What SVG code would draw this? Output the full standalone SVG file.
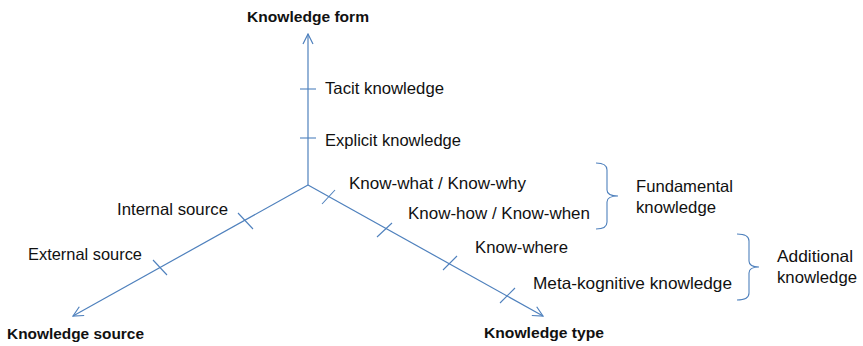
<svg xmlns="http://www.w3.org/2000/svg" width="863" height="346" viewBox="0 0 863 346">
<style>
text{font-family:"Liberation Sans",Arial,sans-serif;fill:#111;}
.lbl{font-size:16.5px;}
.ttl{font-size:15.5px;font-weight:bold;}
.ax{stroke:#4f81bd;stroke-width:1.2;fill:none;}
.tk{stroke:#4f81bd;stroke-width:1.1;fill:none;}
</style>
<defs>
<marker id="arr" viewBox="0 0 12 12" refX="11" refY="6" markerWidth="12" markerHeight="12" markerUnits="userSpaceOnUse" orient="auto">
<path d="M1,1 L11,6 L1,11" fill="none" stroke="#4f81bd" stroke-width="1.2"/>
</marker>
</defs>
<rect width="863" height="346" fill="#fff"/>
<g id="connectors">
<line class="ax" x1="308" y1="185" x2="308" y2="34" marker-end="url(#arr)"/>
<line class="ax" x1="308" y1="185" x2="73" y2="316" marker-end="url(#arr)"/>
<line class="ax" x1="308" y1="185" x2="543" y2="316" marker-end="url(#arr)"/>
<line class="tk" x1="300" y1="89" x2="316" y2="89"/>
<line class="tk" x1="300" y1="138" x2="316" y2="138"/>
<line class="tk" x1="238" y1="213" x2="253" y2="229"/>
<line class="tk" x1="153" y1="260" x2="167" y2="275"/>
<line class="tk" x1="322" y1="204" x2="335" y2="190"/>
<line class="tk" x1="377" y1="237" x2="392" y2="223"/>
<line class="tk" x1="443" y1="270" x2="457" y2="256"/>
<line class="tk" x1="500" y1="303" x2="515" y2="288"/>
<path class="tk" d="M596,163 Q607,163 607,170 L607,190 Q607,196 618,196 Q607,196 607,202 L607,222 Q607,229 596,229"/>
<path class="tk" d="M737,234 Q749,234 749,241 L749,261 Q749,267 759,267 Q749,267 749,273 L749,293 Q749,300 737,300"/>
</g>
<g id="knowledge-form"><text class="ttl" x="247" y="22" textLength="122" lengthAdjust="spacingAndGlyphs">Knowledge form</text></g>
<g id="knowledge-source"><text class="ttl" x="7" y="339" textLength="137" lengthAdjust="spacingAndGlyphs">Knowledge source</text></g>
<g id="knowledge-type"><text class="ttl" x="484" y="338" textLength="120" lengthAdjust="spacingAndGlyphs">Knowledge type</text></g>
<g id="tacit"><text class="lbl" x="325" y="94" textLength="119" lengthAdjust="spacingAndGlyphs">Tacit knowledge</text></g>
<g id="explicit"><text class="lbl" x="325" y="146" textLength="136" lengthAdjust="spacingAndGlyphs">Explicit knowledge</text></g>
<g id="internal"><text class="lbl" x="117" y="215" textLength="111" lengthAdjust="spacingAndGlyphs">Internal source</text></g>
<g id="external"><text class="lbl" x="28" y="260" textLength="114" lengthAdjust="spacingAndGlyphs">External source</text></g>
<g id="know-what"><text class="lbl" x="349" y="189" textLength="177" lengthAdjust="spacingAndGlyphs">Know-what / Know-why</text></g>
<g id="know-how"><text class="lbl" x="408" y="219" textLength="182" lengthAdjust="spacingAndGlyphs">Know-how / Know-when</text></g>
<g id="know-where"><text class="lbl" x="475" y="253" textLength="93" lengthAdjust="spacingAndGlyphs">Know-where</text></g>
<g id="meta"><text class="lbl" x="533" y="289" textLength="199" lengthAdjust="spacingAndGlyphs">Meta-kognitive knowledge</text></g>
<g id="fundamental"><text class="lbl" x="636" y="192" textLength="97" lengthAdjust="spacingAndGlyphs">Fundamental</text><text class="lbl" x="636" y="213" textLength="80" lengthAdjust="spacingAndGlyphs">knowledge</text></g>
<g id="additional"><text class="lbl" x="777" y="262" textLength="76" lengthAdjust="spacingAndGlyphs">Additional</text><text class="lbl" x="777" y="283" textLength="80" lengthAdjust="spacingAndGlyphs">knowledge</text></g>
</svg>
